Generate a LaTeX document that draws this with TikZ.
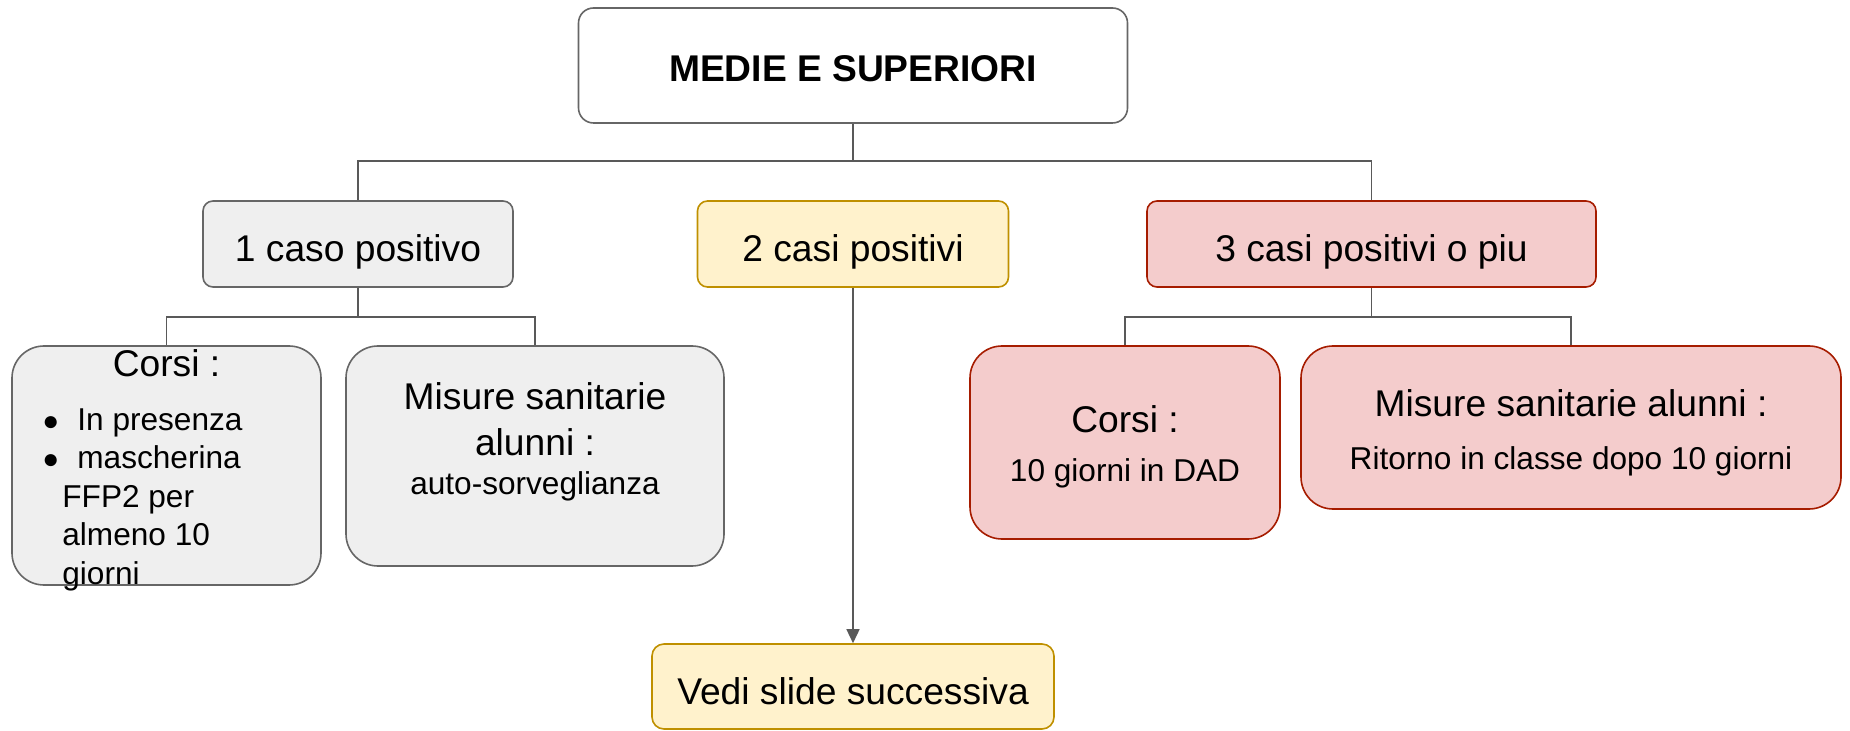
\documentclass[tikz,border=0pt]{standalone}
\usepackage{fontspec}
\setmainfont{Liberation Sans}
\usepackage{tikz}
\usetikzlibrary{positioning, arrows.meta, calc}
\definecolor{greyfill}{RGB}{239, 239, 239}
\definecolor{greyline}{RGB}{102, 102, 102}
\definecolor{yellowfill}{RGB}{255, 242, 204}
\definecolor{yellowline}{RGB}{191, 144, 0}
\definecolor{redfill}{RGB}{244, 204, 204}
\definecolor{redline}{RGB}{166, 28, 0}
\definecolor{linkgrey}{RGB}{89, 89, 89}
\newcommand{\boxfont}{\fontsize{18.6pt}{22.5pt}\selectfont}
\newcommand{\notefont}{\fontsize{15.8pt}{19.25pt}\selectfont}
\newcommand{\dotsym}{{\fontsize{14pt}{14pt}\selectfont ●}}

\begin{document}
\begin{tikzpicture}[
    x=0.5pt, y=-0.5pt,
    box/.style={rectangle, draw, line width=0.8pt, rounded corners=5pt, inner sep=0pt, align=center, font=\boxfont},
    greybox/.style={box, fill=greyfill, draw=greyline},
    yellowbox/.style={box, fill=yellowfill, draw=yellowline},
    redbox/.style={box, fill=redfill, draw=redline},
    bigcorner/.style={rounded corners=16pt},
    lowtext/.style={text height=21.5pt, text depth=3.9pt},
    link/.style={draw=linkgrey, line width=0.75pt},
    arrow/.style={link, -{Triangle[length=7pt, width=6.5pt]}}
]
    \useasboundingbox (0,0) rectangle (1850,731);

    % Title
    \node[box, fill=white, draw=greyline, rounded corners=7.5pt, minimum width=274.5pt, minimum height=57.5pt, font=\boxfont\bfseries, text height=15.7pt, text depth=0pt] (top) at (853,65.5) {MEDIE E SUPERIORI};

    % Number of cases
    \node[greybox, lowtext, minimum width=155pt, minimum height=43pt] (caso1) at (358,244) {1 caso positivo};
    \node[yellowbox, lowtext, minimum width=155.5pt, minimum height=43pt] (casi2) at (853,244) {2 casi positivi};
    \node[redbox, lowtext, minimum width=224.5pt, minimum height=43pt] (casi3) at (1371.5,244) {3 casi positivi o piu};

    % One case
    \node[greybox, bigcorner, minimum width=154.5pt, minimum height=119.5pt] (corsiL) at (166.5,465.5) {};
    \node[font=\boxfont, anchor=base] (corsiLtitle) at (166.5,377) {Corsi :};
    \node[font=\notefont, align=left, anchor=north west, inner sep=0pt] (corsiLlist) at (42,408) {\makebox[17.5pt][l]{\dotsym}In presenza\\
        \makebox[17.5pt][l]{\dotsym}mascherina\\
        \hspace*{10pt}FFP2 per\\
        \hspace*{10pt}almeno 10\\
        \hspace*{10pt}giorni};
    \node[greybox, bigcorner, minimum width=189pt, minimum height=110pt] (misL) at (535,456) {};
    \node[align=center, font=\boxfont] (misLtext) at (535,441.7) {Misure sanitarie\\[0.7pt]alunni :\\[-3pt]{\notefont auto-sorveglianza}};

    % Three cases or more
    \node[redbox, bigcorner, minimum width=155pt, minimum height=96.5pt] (corsiR) at (1125,442.5) {\rule{0pt}{17.5pt}Corsi :\\[2pt]{\notefont 10 giorni in DAD}};
    \node[redbox, bigcorner, minimum width=270pt, minimum height=81.5pt] (misR) at (1571,427.5) {\rule{0pt}{18.6pt}Misure sanitarie alunni :\\[4pt]{\notefont Ritorno in classe dopo 10 giorni}};

    % Two cases
    \node[yellowbox, rounded corners=6pt, minimum width=201pt, minimum height=42.5pt, text height=18.3pt, text depth=0pt] (vedi) at (853,686.5) {Vedi slide successiva};

    % Tree lines
    \coordinate (fork) at ($(top.south)+(0,37)$);
    \draw[link] (top.south) -- (fork) -| (caso1.north);
    \draw[link] (fork) -| (casi3.north);

    \coordinate (forkL) at ($(caso1.south)+(0,29)$);
    \draw[link] (caso1.south) -- (forkL) -| (corsiL.north);
    \draw[link] (forkL) -| (misL.north);

    \coordinate (forkR) at ($(casi3.south)+(0,29)$);
    \draw[link] (casi3.south) -- (forkR) -| (corsiR.north);
    \draw[link] (forkR) -| (misR.north);

    % Arrow to next slide
    \draw[arrow] (casi2.south) -- (vedi.north);
\end{tikzpicture}
\end{document}
